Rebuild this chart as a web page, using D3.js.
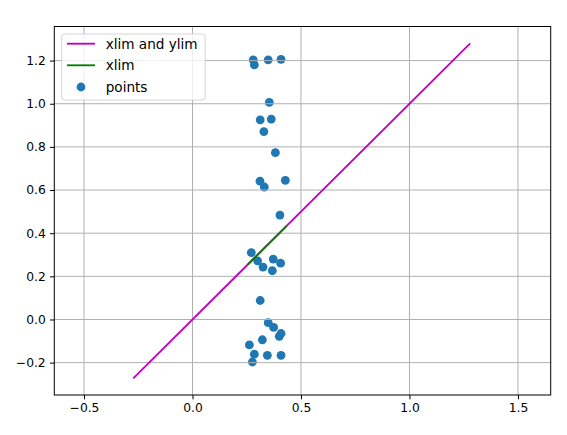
<!DOCTYPE html>
<meta charset="utf-8">
<style>
body { margin: 0; background: #fff; }
text { font-family: "DejaVu Sans", sans-serif; font-size: 12.3px; fill: #000; }
</style>
<svg width="567" height="435"></svg>
<script src="https://cdn.jsdelivr.net/npm/d3@7"></script>
<script>

// scatter points
var px = [0.280, 0.285, 0.349, 0.408, 0.354, 0.312, 0.363, 0.329, 0.382, 0.311,
          0.428, 0.331, 0.403, 0.271, 0.300, 0.325, 0.372, 0.406, 0.368, 0.312,
          0.349, 0.374, 0.408, 0.400, 0.322, 0.262, 0.285, 0.345, 0.408, 0.276];
var py = [1.203, 1.180, 1.203, 1.206, 1.006, 0.925, 0.929, 0.871, 0.773, 0.641,
          0.645, 0.614, 0.484, 0.310, 0.272, 0.243, 0.280, 0.261, 0.226, 0.088,
          -0.015, -0.037, -0.065, -0.078, -0.094, -0.118, -0.161, -0.166, -0.166, -0.197];

var lineBoth = [-0.273, 1.28];   // "xlim and ylim"
var lineX = [0.255, 0.435];      // "xlim"

var xTicks = [-0.5, 0.0, 0.5, 1.0, 1.5];
var yTicks = [-0.2, 0.0, 0.2, 0.4, 0.6, 0.8, 1.0, 1.2];

var legendLabels = ["xlim and ylim", "xlim", "points"];

var svg = d3.select("svg");
var mLeft = 54.3, mRight = 550.7, mTop = 26.5, mBottom = 395;

var x = d3.scaleLinear().domain([-0.637, 1.651]).range([mLeft, mRight]);
var y = d3.scaleLinear().domain([-0.35, 1.358]).range([mBottom, mTop]);

var fmt = function(d) { return d3.format(".1f")(d).replace("-", "\u2212"); };

// points (below grid, like matplotlib)
svg.append("g").selectAll("circle")
    .data(px.map(function(d, i) { return [d, py[i]]; }))
    .enter().append("circle")
    .attr("cx", function(d) { return x(d[0]); })
    .attr("cy", function(d) { return y(d[1]); })
    .attr("r", 4.4)
    .attr("fill", "#1f77b4");

// grid
var grid = svg.append("g").attr("stroke", "#b0b0b0").attr("stroke-width", 1);
grid.selectAll("line.gx").data(xTicks).enter().append("line")
    .attr("x1", function(d) { return x(d); }).attr("x2", function(d) { return x(d); })
    .attr("y1", mTop).attr("y2", mBottom);
grid.selectAll("line.gy").data(yTicks).enter().append("line")
    .attr("y1", function(d) { return y(d); }).attr("y2", function(d) { return y(d); })
    .attr("x1", mLeft).attr("x2", mRight);

// lines
var line = d3.line().x(function(d) { return x(d); }).y(function(d) { return y(d); });
svg.append("path").attr("d", line(lineBoth))
    .attr("fill", "none").attr("stroke", "#bf00bf").attr("stroke-width", 1.85);
svg.append("path").attr("d", line(lineX))
    .attr("fill", "none").attr("stroke", "#008000").attr("stroke-width", 1.85);

// axes
var xAxis = d3.axisBottom(x).tickValues(xTicks).tickFormat(fmt).tickSize(4.3).tickPadding(4.3);
var yAxis = d3.axisLeft(y).tickValues(yTicks).tickFormat(fmt).tickSize(4.3).tickPadding(4.3);

var gx = svg.append("g").attr("transform", "translate(0," + mBottom + ")").call(xAxis);
var gy = svg.append("g").attr("transform", "translate(" + mLeft + ",0)").call(yAxis);
[gx, gy].forEach(function(g) {
  g.select(".domain").remove();
  g.selectAll(".tick line").attr("stroke", "#000").attr("stroke-width", 1);
  g.selectAll("text").style("font-family", "DejaVu Sans").style("font-size", "12.3px").attr("fill", "#000");
});

svg.append("rect")
    .attr("x", mLeft).attr("y", mTop)
    .attr("width", mRight - mLeft).attr("height", mBottom - mTop)
    .attr("fill", "none").attr("stroke", "#000").attr("stroke-width", 1);

// legend
var lg = svg.append("g");
lg.append("rect")
    .attr("x", 61.7).attr("y", 34).attr("width", 143.5).attr("height", 66)
    .attr("rx", 3).attr("fill", "#fff").attr("fill-opacity", 0.8)
    .attr("stroke", "#d6d6d6").attr("stroke-width", 1);
var rowY = [43.7, 65.3, 87];
lg.append("line").attr("x1", 67).attr("x2", 95).attr("y1", rowY[0]).attr("y2", rowY[0])
    .attr("stroke", "#bf00bf").attr("stroke-width", 1.85);
lg.append("line").attr("x1", 67).attr("x2", 95).attr("y1", rowY[1]).attr("y2", rowY[1])
    .attr("stroke", "#008000").attr("stroke-width", 1.85);
lg.append("circle").attr("cx", 81).attr("cy", rowY[2]).attr("r", 4.4).attr("fill", "#1f77b4");
lg.selectAll("text").data(legendLabels).enter().append("text")
    .attr("x", 105.7)
    .attr("y", function(d, i) { return rowY[i]; })
    .attr("dy", "0.36em")
    .style("font-size", "13.6px")
    .text(function(d) { return d; });

</script>
